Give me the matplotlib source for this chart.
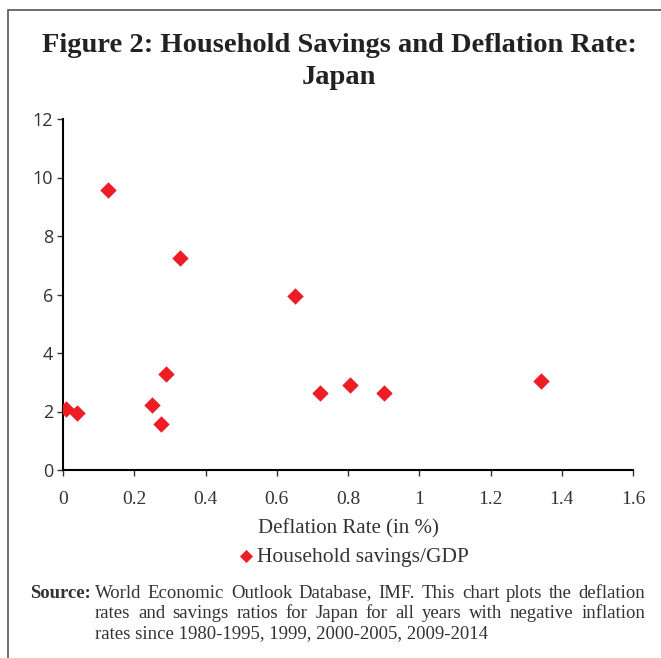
import matplotlib
matplotlib.use("Agg")
import matplotlib.pyplot as plt
from matplotlib.patches import Rectangle

# deflation rate (%) vs household savings / GDP
deflation = [0.008, 0.039, 0.126, 0.25, 0.275, 0.289, 0.329, 0.652, 0.722, 0.806, 0.902, 1.343]
savings = [2.1, 1.95, 9.57, 2.22, 1.57, 3.28, 7.25, 5.95, 2.63, 2.9, 2.63, 3.04]
x_ticks = [0, 0.2, 0.4, 0.6, 0.8, 1, 1.2, 1.4, 1.6]
x_labels = ["0", "0.2", "0.4", "0.6", "0.8", "1", "1.2", "1.4", "1.6"]
y_ticks = [0, 2, 4, 6, 8, 10, 12]

W, H = 661, 658
fig = plt.figure(figsize=(W / 100, H / 100), dpi=100)

# frame round the figure (open at right/bottom as in the source)
fig.patches.append(Rectangle((8 / W, -0.1), 2.0, (H - 10) / H + 0.1,
                             transform=fig.transFigure, fill=False,
                             edgecolor="#555555", linewidth=1.2))

fig.text(339 / W, 1 - 46 / H, "Figure 2: Household Savings and Deflation Rate:",
         ha="center", va="center", fontsize=20.5, fontweight="bold",
         family="Liberation Serif", color="#222222")
fig.text(339 / W, 1 - 78 / H, "Japan", ha="center", va="center", fontsize=20.5,
         fontweight="bold", family="Liberation Serif", color="#222222")

ax = fig.add_axes([63 / W, (H - 470) / H, 570 / W, 351 / H])
ax.scatter(deflation, savings, marker="D", s=70, color="#ee1c25", zorder=3,
           linewidths=0, label="Household savings/GDP")

ax.set_xlim(0, 1.6)
ax.set_ylim(0, 12)
ax.set_xticks(x_ticks)
ax.set_xticklabels(x_labels, family="Liberation Serif", fontsize=14)
ax.set_yticks(y_ticks)
ax.set_yticklabels([str(v) for v in y_ticks], family="Open Sans", fontsize=13)
ax.spines["top"].set_visible(False)
ax.spines["right"].set_visible(False)
ax.spines["left"].set_linewidth(1.5)
ax.spines["bottom"].set_linewidth(1.5)
ax.tick_params(direction="out", length=4, width=1, color="#333333", labelcolor="#333333")
ax.tick_params(axis="x", pad=11)
ax.tick_params(axis="y", pad=3)
ax.set_xlabel("Deflation Rate (in %)", family="Liberation Serif", fontsize=15,
              color="#333333", labelpad=8)

leg = fig.legend(loc="center", bbox_to_anchor=(347 / W, 1 - 557 / H), frameon=False,
                 prop={"family": "Liberation Serif", "size": 15.5},
                 handletextpad=-0.5, markerscale=0.8)
for t in leg.get_texts():
    t.set_color("#333333")

fig.text(30 / W, 1 - 593 / H, "Source:", ha="left", va="center", fontsize=13.5,
         fontweight="bold", family="Liberation Serif", color="#333333")
src = ["World Economic Outlook Database, IMF. This chart plots the deflation",
       "rates and savings ratios for Japan for all years with negative inflation",
       "rates since 1980-1995, 1999, 2000-2005, 2009-2014"]

# justify the first two lines between x=95 and x=645 like the original
renderer = fig.canvas.get_renderer()
left, right = 95, 645
for i, line in enumerate(src):
    y = 1 - (593 + i * 20.5) / H
    kw = dict(ha="left", va="center", fontsize=13.5, family="Liberation Serif",
              color="#333333")
    if i == len(src) - 1:
        fig.text(left / W, y, line, **kw)
        continue
    words = line.split(" ")
    arts = [fig.text(0, y, w, **kw) for w in words]
    widths = [a.get_window_extent(renderer).width for a in arts]
    gap = (right - left - sum(widths)) / (len(words) - 1)
    xpos = left
    for a, w in zip(arts, widths):
        a.set_x(xpos / W)
        xpos += w + gap

fig.savefig("out.png", dpi=100)
